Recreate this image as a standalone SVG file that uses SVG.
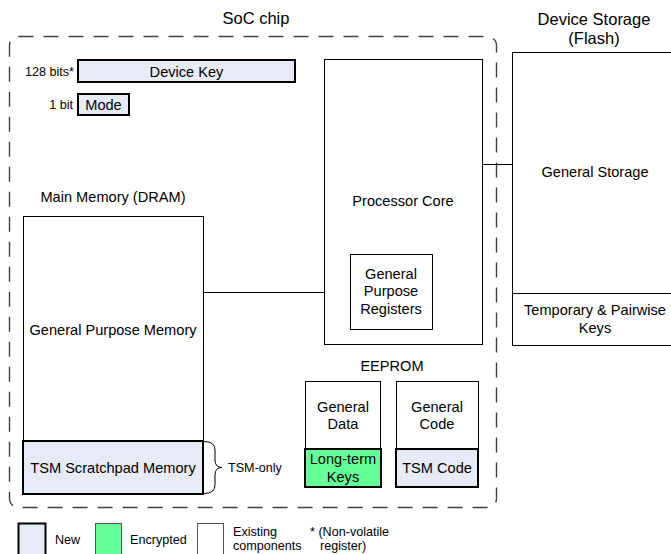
<svg xmlns="http://www.w3.org/2000/svg" width="671" height="554" viewBox="0 0 671 554">
<style>
text{font-family:"Liberation Sans",Arial,sans-serif;fill:#000;}
.t16{font-size:16.5px;}
.t14{font-size:14.6px;}
.t11{font-size:12.6px;}
.box{fill:#fff;stroke:#000;stroke-width:1;}
.new{fill:#e6ebf6;stroke:#000;stroke-width:2;}
.enc{fill:#66ff99;stroke:#000;stroke-width:2;}
.line{stroke:#000;stroke-width:1;fill:none;}
</style>
<rect width="671" height="554" fill="#fff"/>
<g id="soc">
<rect x="9.5" y="36.5" width="487" height="471" rx="9" fill="none" stroke="#404040" stroke-width="1.4" stroke-dasharray="15,10"/>
<text class="t16" x="256" y="24" text-anchor="middle">SoC chip</text>
</g>
<g id="connectors">
<line class="line" x1="482" y1="164.5" x2="512" y2="164.5"/>
<line class="line" x1="203" y1="292.5" x2="350" y2="292.5"/>
</g>
<g id="device-key">
<rect class="new" x="78" y="60" width="217" height="22"/>
<text class="t14" x="186.5" y="76.5" text-anchor="middle">Device Key</text>
<text class="t11" x="74" y="76" text-anchor="end">128 bits*</text>
</g>
<g id="mode">
<rect class="new" x="78" y="94" width="51" height="21"/>
<text class="t14" x="103.5" y="110" text-anchor="middle">Mode</text>
<text class="t11" x="73" y="109" text-anchor="end">1 bit</text>
</g>
<g id="processor-core">
<rect class="box" x="324.5" y="59.5" width="158" height="285"/>
<text class="t14" x="403" y="206" text-anchor="middle">Processor Core</text>
</g>
<g id="gpr">
<rect class="box" x="350.5" y="254.5" width="82" height="75"/>
<text class="t14" x="391" y="279" text-anchor="middle">General</text>
<text class="t14" x="391" y="296" text-anchor="middle">Purpose</text>
<text class="t14" x="391" y="314" text-anchor="middle">Registers</text>
</g>
<g id="device-storage">
<text class="t16" x="594" y="25" text-anchor="middle">Device Storage</text>
<text class="t16" x="594" y="44" text-anchor="middle">(Flash)</text>
<rect class="box" x="512.5" y="52.5" width="170" height="241"/>
<text class="t14" x="595" y="177" text-anchor="middle">General Storage</text>
</g>
<g id="temp-keys">
<rect class="box" x="512.5" y="293.5" width="170" height="52"/>
<text class="t14" x="595" y="315" text-anchor="middle">Temporary &amp; Pairwise</text>
<text class="t14" x="595" y="333" text-anchor="middle">Keys</text>
</g>
<g id="main-memory">
<text class="t14" x="113" y="202" text-anchor="middle">Main Memory (DRAM)</text>
<rect class="box" x="23.5" y="216.5" width="180" height="225"/>
<text class="t14" x="113" y="335" text-anchor="middle">General Purpose Memory</text>
</g>
<g id="scratchpad">
<rect class="new" x="23" y="441" width="180" height="53"/>
<text class="t14" x="113" y="473" text-anchor="middle">TSM Scratchpad Memory</text>
<path class="line" d="M204,441.5 Q215,441.5 215,450 L215,460 Q215,467.5 222,467.5 Q215,467.5 215,475 L215,485 Q215,493.5 204,493.5"/>
<text class="t11" x="228" y="472">TSM-only</text>
</g>
<g id="eeprom">
<text class="t14" x="392" y="371" text-anchor="middle">EEPROM</text>
</g>
<g id="general-data">
<rect class="box" x="305.5" y="381.5" width="75" height="68"/>
<text class="t14" x="343" y="412" text-anchor="middle">General</text>
<text class="t14" x="343" y="429" text-anchor="middle">Data</text>
</g>
<g id="long-term-keys">
<rect class="enc" x="305" y="449" width="76" height="38"/>
<text class="t14" x="343" y="464" text-anchor="middle">Long-term</text>
<text class="t14" x="343" y="482" text-anchor="middle">Keys</text>
</g>
<g id="general-code">
<rect class="box" x="396.5" y="381.5" width="82" height="68"/>
<text class="t14" x="437" y="412" text-anchor="middle">General</text>
<text class="t14" x="437" y="429" text-anchor="middle">Code</text>
</g>
<g id="tsm-code">
<rect class="new" x="396" y="449" width="82" height="38"/>
<text class="t14" x="437" y="473" text-anchor="middle">TSM Code</text>
</g>
<g id="legend">
<rect class="new" x="18.5" y="523.5" width="27" height="34"/>
<text class="t11" x="55" y="544">New</text>
<rect x="95.5" y="523.5" width="26" height="34" fill="#66ff99" stroke="#555" stroke-width="1"/>
<text class="t11" x="130" y="544">Encrypted</text>
<rect x="197.5" y="523.5" width="26" height="34" fill="#fff" stroke="#555" stroke-width="1"/>
<text class="t11" x="233" y="536">Existing</text>
<text class="t11" x="233" y="550">components</text>
<text class="t11" x="310" y="536">* (Non-volatile</text>
<text class="t11" x="320" y="550">register)</text>
</g>
</svg>
